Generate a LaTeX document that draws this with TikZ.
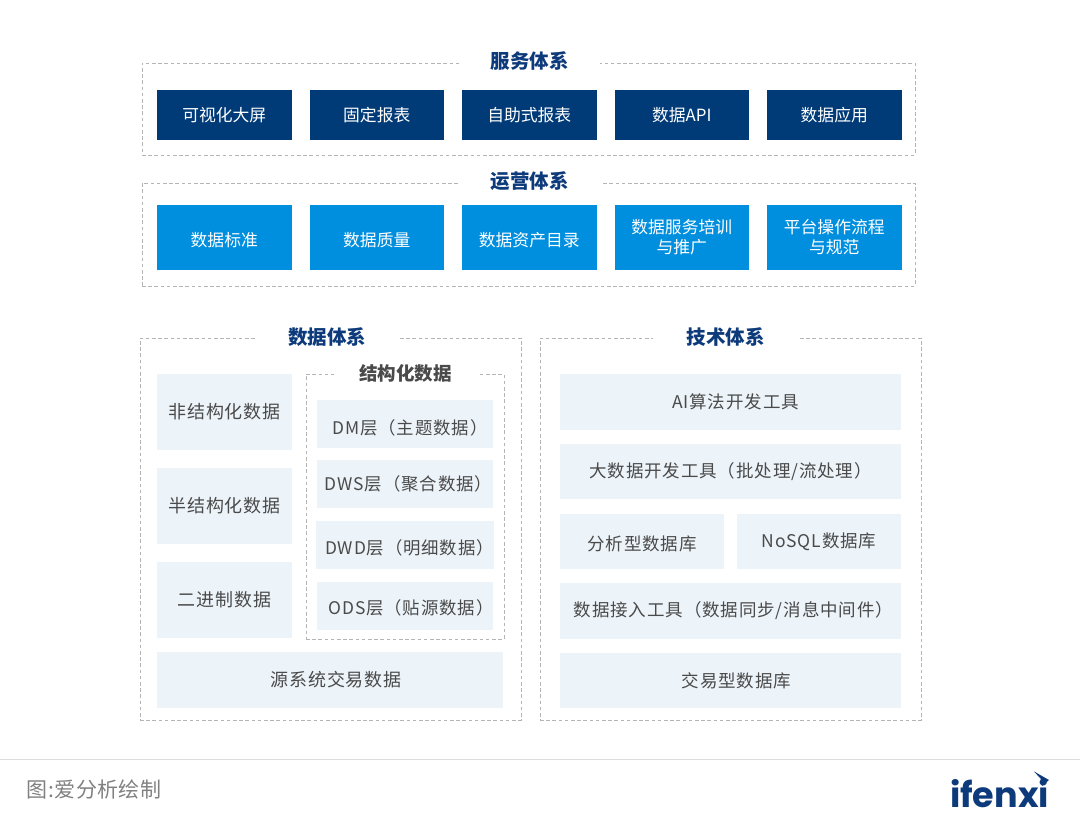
\documentclass[tikz,border=0pt]{standalone}
\usepackage{fontspec}
\setmainfont{Noto Sans CJK SC}
\newfontfamily\logofont{Poppins}
\usepackage{xcolor}
\usetikzlibrary{positioning}
\definecolor{navy}{HTML}{003B78}
\definecolor{sky}{HTML}{008FDF}
\definecolor{pale}{HTML}{ECF3F9}
\definecolor{ink}{HTML}{4A4A4A}
\definecolor{heading}{HTML}{0D3A7A}
\definecolor{dashgray}{HTML}{B4B4B4}
\definecolor{rulegray}{HTML}{DCDCDC}
\definecolor{notegray}{HTML}{808080}

\begin{document}
\begin{tikzpicture}[
  x=1pt, y=-1pt, outer sep=0pt,
  frame/.style={draw=dashgray, dashed, dash pattern=on 3.6pt off 2.6pt, line width=0.8pt,
    anchor=north west, inner sep=0pt},
  title/.style={fill=white, text=heading, font=\fontsize{19.5}{22}\selectfont\bfseries,
    inner sep=0pt, minimum height=16pt},
  svcbox/.style={fill=navy, text=white, font=\fontsize{16.8}{20}\selectfont, inner sep=0pt,
    anchor=north west, minimum width=134.5pt, minimum height=50pt, align=center},
  opsbox/.style={fill=sky, text=white, font=\fontsize{16.8}{20}\selectfont, inner sep=0pt,
    anchor=north west, minimum width=134.5pt, minimum height=65pt, align=center},
  databox/.style={fill=pale, text=ink, font=\fontsize{18}{20}\selectfont\addfontfeature{LetterSpace=5}, inner sep=0pt,
    anchor=north west, align=center},
  layerbox/.style={databox, font=\fontsize{17.4}{20}\selectfont\addfontfeature{LetterSpace=5},
    minimum width=176pt, minimum height=48pt},
  toolbox/.style={databox, font=\fontsize{17.5}{20}\selectfont\addfontfeature{LetterSpace=5}},
]
  \useasboundingbox (0,0) rectangle (1080,821);

  % service layer
  \node[frame, minimum width=773pt, minimum height=92pt] (svcframe) at (142,63) {};
  \node[title, minimum width=140pt] (svctitle) at (529.5,61) {服务体系};
  \node[svcbox] (svcA) at (157,90) {可视化大屏};
  \node[svcbox, right=18pt of svcA] (svcB) {固定报表};
  \node[svcbox, right=18pt of svcB] (svcC) {自助式报表};
  \node[svcbox, right=18pt of svcC] (svcD) {数据API};
  \node[svcbox, right=18pt of svcD] (svcE) {数据应用};

  % operations layer
  \node[frame, minimum width=773pt, minimum height=103pt] (opsframe) at (142,183) {};
  \node[title, minimum width=142pt] (opstitle) at (529.5,181) {运营体系};
  \node[opsbox] (opsA) at (157,205) {\rule{0pt}{18.5pt}数据标准};
  \node[opsbox, right=18pt of opsA] (opsB) {\rule{0pt}{18.5pt}数据质量};
  \node[opsbox, right=18pt of opsB] (opsC) {\rule{0pt}{18.5pt}数据资产目录};
  \node[opsbox, right=18pt of opsC] (opsD) {数据服务培训\\与推广};
  \node[opsbox, right=18pt of opsD] (opsE) {平台操作流程\\与规范};

  % data system
  \node[frame, minimum width=381pt, minimum height=382pt] (dataframe) at (140,338) {};
  \node[title, minimum width=140pt] (datatitle) at (327,337) {数据体系};
  \node[databox, minimum width=135pt, minimum height=76pt] (rawA) at (157,374) {非结构化数据};
  \node[databox, minimum width=135pt, minimum height=76pt, below=18pt of rawA] (rawB) {半结构化数据};
  \node[databox, minimum width=135pt, minimum height=76pt, below=18pt of rawB] (rawC) {二进制数据};
  \node[frame, minimum width=198pt, minimum height=265pt] (structframe) at (306,374) {};
  \node[title, text=ink, minimum width=143pt, font=\fontsize{18.5}{22}\selectfont\bfseries] (structtitle) at (405.5,373) {结构化数据};
  \node[layerbox] (layerA) at (317,400) {\hspace*{10pt}\rule{0pt}{22pt}DM层（主题数据）};
  \node[layerbox, below=12pt of layerA] (layerB) {\hspace*{7pt}DWS层（聚合数据）};
  \node[layerbox, below=13pt of layerB] (layerC) {\hspace*{9pt}\rule{0pt}{20pt}DWD层（明细数据）};
  \node[layerbox, below=13pt of layerC] (layerD) {\hspace*{12pt}\rule{0pt}{19pt}ODS层（贴源数据）};
  \node[databox, minimum width=346pt, minimum height=56pt] (source) at (157,652) {\hspace*{12pt}源系统交易数据};

  % tech system
  \node[frame, minimum width=381pt, minimum height=382pt] (techframe) at (540,338) {};
  \node[title, minimum width=145pt] (techtitle) at (725.5,337) {技术体系};
  \node[toolbox, minimum width=341pt, minimum height=56pt] (toolA) at (560,374) {\hspace*{10pt}AI算法开发工具};
  \node[toolbox, minimum width=341pt, minimum height=55pt, below=14pt of toolA] (toolB) {大数据开发工具（批处理/流处理）};
  \node[toolbox, minimum width=164pt, minimum height=55pt, below=15pt of toolB.south west, anchor=north west] (toolC) {\rule{0pt}{19.5pt}分析型数据库};
  \node[toolbox, minimum width=164pt, minimum height=55pt, right=13pt of toolC] (toolD) {NoSQL数据库};
  \node[toolbox, minimum width=341pt, minimum height=56pt] (toolE) at (560,583) {\hspace*{6pt}数据接入工具（数据同步/消息中间件）};
  \node[toolbox, minimum width=341pt, minimum height=55pt, below=14pt of toolE] (toolF) {\hspace*{12pt}交易型数据库};

  % footer
  \node[minimum width=1080pt, minimum height=1.5pt, inner sep=0pt, fill=rulegray, anchor=north west] (footrule) at (0,758.5) {};
  \node[anchor=west, inner sep=0pt, text=notegray, font=\fontsize{21}{24}\selectfont\addfontfeature{LetterSpace=2}] (credit) at (27,790) {图:爱分析绘制};
  \node[anchor=base west, inner sep=0pt, text=heading, font=\logofont\fontsize{35}{40}\selectfont\bfseries] (logo) at (950,807) {ifenxi};
  \fill[heading] (1034,771.5) -- (1049,780) -- (1042,786) -- (1040.5,778.5) -- cycle;
\end{tikzpicture}
\end{document}
